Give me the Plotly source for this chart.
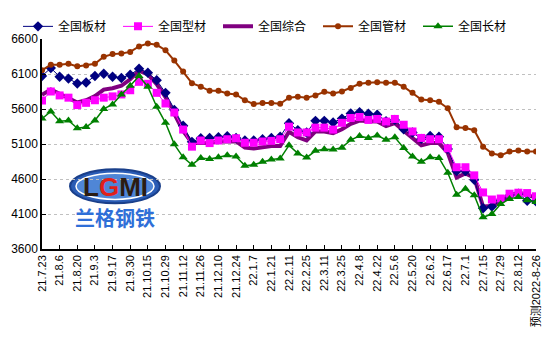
import plotly.graph_objects as go

# Weekly national steel price indices (yuan/t), 2021-07-23 .. 2022-08-26 (last week is a forecast)
tick_labels = ["21.7.23", "21.8.6", "21.8.20", "21.9.3", "21.9.17", "21.9.30", "21.10.15",
               "21.10.29", "21.11.12", "21.11.26", "21.12.10", "21.12.24", "22.1.7", "22.1.21",
               "22.2.11", "22.2.25", "22.3.11", "22.3.25", "22.4.8", "22.4.22", "22.5.6",
               "22.5.20", "22.6.2", "22.6.17", "22.7.1", "22.7.15", "22.7.29", "22.8.12",
               "预测2022-8-26"]

plate = [6071, 6186, 6061, 6034, 5965, 5978, 6071, 6103, 6061, 6043, 6089, 6176, 6117, 6011,
         5831, 5587, 5361, 5131, 5182, 5187, 5196, 5210, 5187, 5150, 5150, 5168, 5187, 5205,
         5398, 5297, 5265, 5431, 5431, 5408, 5463, 5536, 5555, 5532, 5518, 5426, 5444, 5311,
         5265, 5173, 5214, 5205, 5030, 4712, 4712, 4588, 4183, 4206, 4298, 4360, 4390, 4290,
         4280]
section = [5721, 5850, 5794, 5762, 5656, 5688, 5725, 5762, 5780, 5808, 5868, 5988, 5960, 5831,
           5679, 5550, 5306, 5062, 5150, 5113, 5150, 5168, 5182, 5118, 5118, 5136, 5145, 5168,
           5348, 5265, 5265, 5334, 5334, 5306, 5403, 5472, 5486, 5444, 5458, 5421, 5458, 5375,
           5279, 5187, 5168, 5168, 5039, 4768, 4768, 4652, 4408, 4307, 4321, 4390, 4404, 4399,
           4353]
composite = [5803, 5877, 5817, 5762, 5693, 5725, 5785, 5877, 5896, 5932, 6024, 6149, 6094, 5955,
             5771, 5532, 5288, 5113, 5120, 5113, 5136, 5136, 5136, 5048, 5035, 5053, 5071, 5071,
             5274, 5196, 5150, 5279, 5279, 5256, 5311, 5389, 5435, 5426, 5421, 5357, 5398, 5288,
             5187, 5081, 5113, 5113, 4975, 4620, 4680, 4620, 4206, 4215, 4284, 4367, 4404, 4381,
             4330]
pipe = [6153, 6232, 6232, 6245, 6209, 6222, 6245, 6347, 6384, 6393, 6416, 6494, 6536, 6517,
        6439, 6292, 6135, 5969, 5919, 5859, 5859, 5822, 5808, 5725, 5670, 5684, 5684, 5675,
        5762, 5776, 5762, 5794, 5845, 5822, 5850, 5900, 5960, 5974, 5983, 5974, 5974, 5919,
        5831, 5734, 5725, 5702, 5610, 5338, 5329, 5297, 5062, 4966, 4938, 4993, 5007, 4993,
        4993]
long_steel = [5463, 5564, 5426, 5435, 5325, 5343, 5435, 5601, 5665, 5808, 5932, 6071, 5919, 5633,
              5403, 5095, 4910, 4804, 4900, 4887, 4910, 4938, 4920, 4791, 4804, 4846, 4878, 4892,
              5081, 4966, 4906, 5003, 5026, 5021, 5048, 5159, 5214, 5187, 5223, 5159, 5196, 5044,
              4920, 4846, 4910, 4901, 4689, 4376, 4459, 4367, 4054, 4100, 4243, 4316, 4344, 4298,
              4270]

weeks = list(range(len(plate)))
tick_pos = weeks[::2]

W, H = 555, 338
L, R, T, B = 42, 19, 33, 89
pw, ph = W - L - R, H - T - B


def px(x):
    return (x - L) / pw


def py(y):
    return 1 - (y - T) / ph


font_fam = "Liberation Sans, Arial, Noto Sans CJK SC, sans-serif"

fig = go.Figure()

# composite drawn first so the marker series sit on top of it
fig.add_trace(go.Scatter(x=weeks, y=composite, name="全国综合", mode="lines",
                         line=dict(color="#800080", width=4), legendrank=3))
fig.add_trace(go.Scatter(x=weeks, y=plate, name="全国板材", mode="lines+markers",
                         line=dict(color="#000080", width=1),
                         marker=dict(symbol="diamond", size=8, color="#000080"), legendrank=1))
fig.add_trace(go.Scatter(x=weeks, y=section, name="全国型材", mode="lines+markers",
                         line=dict(color="#FF00FF", width=1),
                         marker=dict(symbol="square", size=8, color="#FF00FF"), legendrank=2))
fig.add_trace(go.Scatter(x=weeks, y=pipe, name="全国管材", mode="lines+markers",
                         line=dict(color="#993300", width=2),
                         marker=dict(symbol="circle", size=6, color="#993300"), legendrank=4))
fig.add_trace(go.Scatter(x=weeks, y=long_steel, name="全国长材", mode="lines+markers",
                         line=dict(color="#008000", width=1.5),
                         marker=dict(symbol="triangle-up", size=8, color="#008000"), legendrank=5))

# company logo: blue oval badge with "LGMI" and the Chinese name below
shapes = [
    dict(type="circle", xref="paper", yref="paper",
         x0=px(70), x1=px(160), y0=py(202), y1=py(167),
         fillcolor="#2a5cb5", line=dict(color="#1a3f8a", width=2), layer="below"),
    dict(type="circle", xref="paper", yref="paper",
         x0=px(76), x1=px(154), y0=py(198), y1=py(171),
         fillcolor="#4f86d6", line=dict(color="#ffffff", width=1.5), layer="below"),
]
annotations = [
    dict(xref="paper", yref="paper", x=px(115), y=py(185), showarrow=False,
         text="<b>L<span style='color:#e0201a'>G</span>MI</b>",
         font=dict(family="Liberation Sans, Arial", size=26, color="#2b1c12"),
         xanchor="center", yanchor="middle"),
    dict(xref="paper", yref="paper", x=px(115), y=py(217), showarrow=False,
         text="<b>兰格钢铁</b>",
         font=dict(family="Noto Sans CJK SC", size=20, color="#2f6fd8"),
         xanchor="center", yanchor="middle"),
]

fig.update_layout(
    width=W, height=H,
    margin=dict(l=L, r=R, t=T, b=B),
    paper_bgcolor="white", plot_bgcolor="white",
    font=dict(family=font_fam, size=12, color="#000000"),
    showlegend=True,
    legend=dict(orientation="h", x=px(18), y=py(20), xanchor="left", yanchor="middle",
                entrywidth=55, entrywidthmode="pixels",
                font=dict(family="Noto Sans CJK SC, Liberation Sans", size=12, color="#000000"),
                itemwidth=30, tracegroupgap=0, bgcolor="rgba(0,0,0,0)"),
    shapes=shapes,
    annotations=annotations,
)

fig.update_xaxes(range=[0, weeks[-1]], tickmode="array", tickvals=tick_pos, ticktext=tick_labels,
                 tickangle=-90, ticks="inside", ticklen=4, tickcolor="#000000",
                 showline=True, linecolor="#000000", linewidth=1.5, showgrid=False,
                 zeroline=False, tickfont=dict(size=11, family=font_fam))
fig.update_yaxes(range=[3600, 6600], tickmode="array", tickvals=list(range(3600, 6601, 500)),
                 ticks="inside", ticklen=4, tickcolor="#000000",
                 showline=True, linecolor="#000000", linewidth=1.5,
                 showgrid=True, gridcolor="#c0c0c0", griddash="dot", gridwidth=1,
                 zeroline=False, tickfont=dict(size=12, family=font_fam))

fig.write_html("out.html")
